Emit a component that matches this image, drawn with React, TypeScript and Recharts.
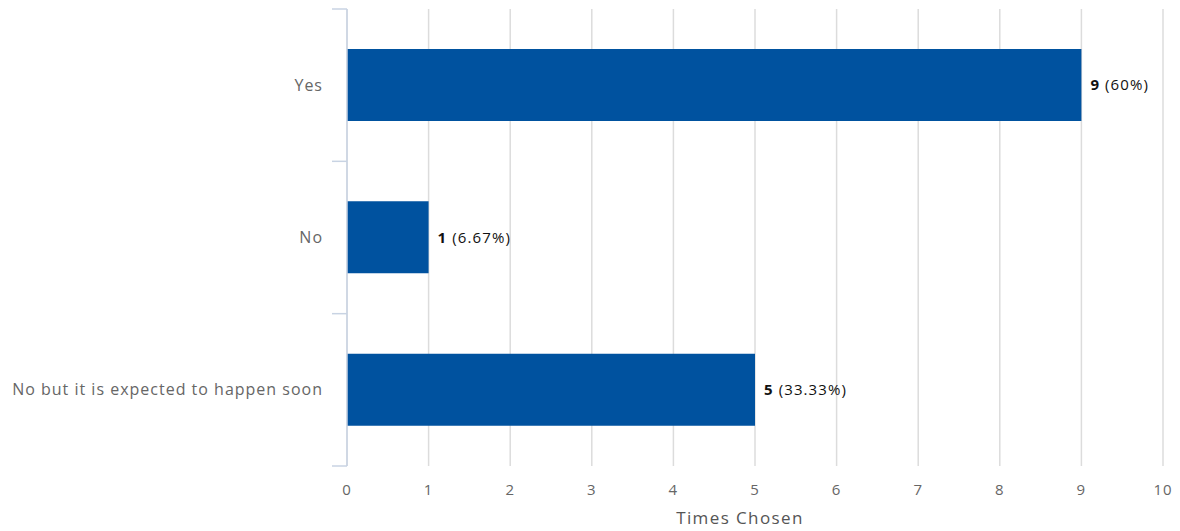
import { BarChart, Bar, XAxis, YAxis, CartesianGrid, LabelList } from 'recharts'

const categories = ['Yes', 'No', 'No but it is expected to happen soon']
const timesChosen = [9, 1, 5]
const percentLabels = ['60%', '6.67%', '33.33%']
const xTicks = [0, 1, 2, 3, 4, 5, 6, 7, 8, 9, 10]

const data = categories.map((name, i) => ({ name, count: timesChosen[i], pct: percentLabels[i] }))

const FONT = '"Open Sans", sans-serif'
const AXIS_COLOR = '#c8d3e3'

function CategoryTick(props: any) {
  const { x, y, payload, index } = props
  const off = payload.offset ?? 0
  const axisX = x + 24
  const last = index === categories.length - 1
  return (
    <g>
      <line x1={axisX - 15} x2={axisX} y1={y - off} y2={y - off} stroke={AXIS_COLOR} strokeWidth={1.5} />
      {last && <line x1={axisX - 15} x2={axisX} y1={y + off} y2={y + off} stroke={AXIS_COLOR} strokeWidth={1.5} />}
      <text x={x} y={y} dy="0.35em" textAnchor="end" fill="#666" fontSize={16} letterSpacing={1} fontFamily={FONT}>
        {payload.value}
      </text>
    </g>
  )
}

function ValueLabel(props: any) {
  const { x, y, width, height, index } = props
  return (
    <text x={x + width + 9} y={y + height / 2} dy="0.35em" fontSize={15} letterSpacing={1.1} fontFamily={FONT} fill="#111">
      <tspan fontWeight="bold">{timesChosen[index]}</tspan>
      <tspan> ({percentLabels[index]})</tspan>
    </text>
  )
}

export default function App() {
  return (
    <div style={{ position: 'absolute', left: 0, top: 0, background: '#fff' }}>
      <BarChart
        width={1180}
        height={531}
        data={data}
        layout="vertical"
        margin={{ top: 9, right: 17, left: 0, bottom: 0 }}
      >
        <CartesianGrid horizontal={false} stroke="#dcdcdc" strokeWidth={1.5} />
        <XAxis
          type="number"
          domain={[0, 10]}
          ticks={xTicks}
          tickLine={false}
          axisLine={false}
          tickSize={10}
          tickMargin={8}
          height={65}
          tick={{ fill: '#666', fontSize: 15, letterSpacing: 1, fontFamily: FONT }}
          label={{ value: 'Times Chosen', position: 'insideBottom', offset: 7, dx: -15, fill: '#555', fontSize: 17, letterSpacing: 1.4, fontFamily: FONT }}
        />
        <YAxis
          type="category"
          dataKey="name"
          width={347}
          tickLine={false}
          tickSize={15}
          tickMargin={9}
          axisLine={{ stroke: AXIS_COLOR, strokeWidth: 1.5 }}
          tick={<CategoryTick />}
        />
        <Bar dataKey="count" fill="#00529f" barSize={72} isAnimationActive={false}>
          <LabelList dataKey="count" content={<ValueLabel />} />
        </Bar>
      </BarChart>
    </div>
  )
}
